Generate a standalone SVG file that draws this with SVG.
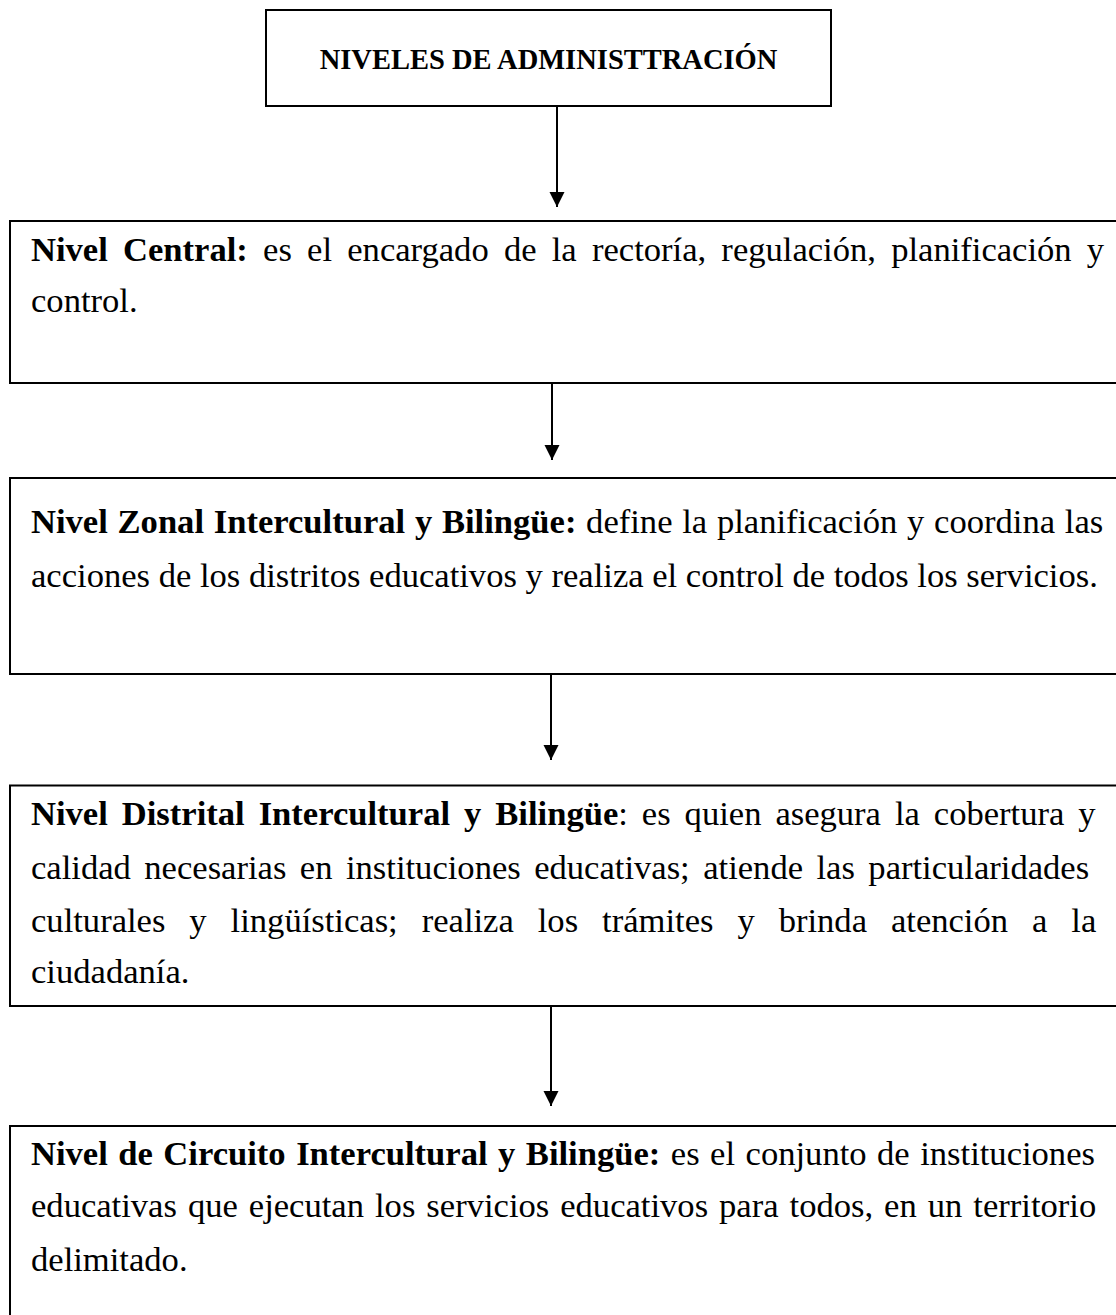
<svg xmlns="http://www.w3.org/2000/svg" width="1116" height="1315" viewBox="0 0 1116 1315">
<style>
.box{fill:#fff;stroke:#000;stroke-width:2}
.t{font-family:"Liberation Serif","Times New Roman",serif;font-size:34.6px;fill:#000}
.b{font-weight:bold}
.title{font-family:"Liberation Serif","Times New Roman",serif;font-size:28.5px;font-weight:bold;fill:#000}
.conn{stroke:#000;stroke-width:2;fill:none}
</style>
<defs>
<marker id="ah" markerUnits="userSpaceOnUse" markerWidth="16" markerHeight="16" refX="15" refY="7.5" orient="auto">
<path d="M0,0 L15,7.5 L0,15 z" fill="#000"/>
</marker>
</defs>
<rect width="1116" height="1315" fill="#fff"/>
<g id="connectors">
<line class="conn" x1="557" y1="106" x2="557" y2="207" marker-end="url(#ah)"/>
<line class="conn" x1="552" y1="383" x2="552" y2="460" marker-end="url(#ah)"/>
<line class="conn" x1="551" y1="674" x2="551" y2="760" marker-end="url(#ah)"/>
<line class="conn" x1="551" y1="1006" x2="551" y2="1106" marker-end="url(#ah)"/>
</g>
<g id="title">
<rect class="box" x="266" y="10" width="565" height="96"/>
<text class="title" x="548.5" y="69" text-anchor="middle">NIVELES DE ADMINISTTRACIÓN</text>
</g>
<g id="central">
<rect class="box" x="10" y="221" width="1120" height="162"/>
<text class="t" x="31" y="261" word-spacing="6.57"><tspan class="b">Nivel Central:</tspan> es el encargado de la rectoría, regulación, planificación y</text>
<text class="t" x="31" y="312">control.</text>
</g>
<g id="zonal">
<rect class="box" x="10" y="478" width="1120" height="196"/>
<text class="t" x="31" y="533" word-spacing="1.07"><tspan class="b">Nivel Zonal Intercultural y Bilingüe:</tspan> define la planificación y coordina las</text>
<text class="t" x="31" y="587">acciones de los distritos educativos y realiza el control de todos los servicios.</text>
</g>
<g id="distrital">
<rect class="box" x="10" y="785.5" width="1120" height="220.5"/>
<text class="t" x="31" y="825" word-spacing="5.31"><tspan class="b">Nivel Distrital Intercultural y Bilingüe</tspan>: es quien asegura la cobertura y</text>
<text class="t" x="31" y="879" word-spacing="4.82">calidad necesarias en instituciones educativas; atiende las particularidades</text>
<text class="t" x="31" y="932" word-spacing="15.31">culturales y lingüísticas; realiza los trámites y brinda atención a la</text>
<text class="t" x="31" y="983">ciudadanía.</text>
</g>
<g id="circuito">
<rect class="box" x="10" y="1126" width="1120" height="200"/>
<text class="t" x="31" y="1165" word-spacing="1.84"><tspan class="b">Nivel de Circuito Intercultural y Bilingüe:</tspan> es el conjunto de instituciones</text>
<text class="t" x="31" y="1217" word-spacing="2.34">educativas que ejecutan los servicios educativos para todos, en un territorio</text>
<text class="t" x="31" y="1271">delimitado.</text>
</g>
</svg>
